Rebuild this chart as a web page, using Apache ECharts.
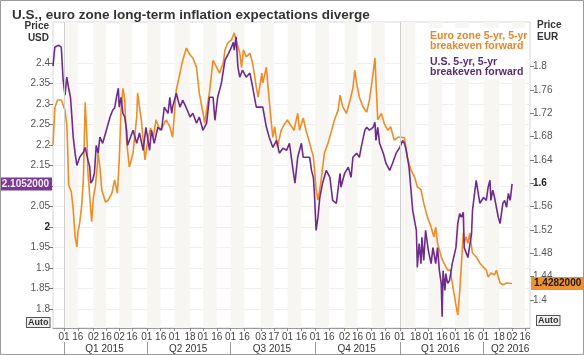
<!DOCTYPE html>
<html><head><meta charset="utf-8">
<script src="https://cdn.jsdelivr.net/npm/echarts@6/dist/echarts.min.js"></script>
<style>html,body{margin:0;padding:0;background:#fff}#c{width:584px;height:355px}</style>
</head><body><div id="c"></div>
<script>
// ---- data ----
const usdDates = ['2014-12-20','2014-12-22','2014-12-24','2014-12-26','2014-12-29','2014-12-31','2015-01-02','2015-01-04','2015-01-06','2015-01-08','2015-01-09','2015-01-11','2015-01-13','2015-01-15','2015-01-18','2015-01-22','2015-01-24','2015-01-27','2015-01-29','2015-01-30','2015-02-01','2015-02-03','2015-02-05','2015-02-07','2015-02-09','2015-02-12','2015-02-16','2015-02-20','2015-02-23','2015-02-25','2015-02-27','2015-03-01','2015-03-02','2015-03-04','2015-03-06','2015-03-08','2015-03-10','2015-03-11','2015-03-17','2015-03-21','2015-03-24','2015-03-28','2015-03-31','2015-04-04','2015-04-06','2015-04-09','2015-04-13','2015-04-17','2015-04-20','2015-04-24','2015-04-26','2015-04-28','2015-04-29','2015-05-03','2015-05-07','2015-05-10','2015-05-14','2015-05-18','2015-05-21','2015-05-25','2015-05-28','2015-06-01','2015-06-05','2015-06-08','2015-06-12','2015-06-14','2015-06-17','2015-06-21','2015-06-25','2015-06-28','2015-07-02','2015-07-04','2015-07-05','2015-07-07','2015-07-09','2015-07-11','2015-07-14','2015-07-18','2015-07-22','2015-07-25','2015-07-29','2015-08-02','2015-08-05','2015-08-09','2015-08-12','2015-08-16','2015-08-20','2015-08-23','2015-08-27','2015-08-31','2015-09-03','2015-09-07','2015-09-09','2015-09-12','2015-09-16','2015-09-18','2015-09-21','2015-09-25','2015-09-27','2015-09-29','2015-09-30','2015-10-02','2015-10-04','2015-10-06','2015-10-09','2015-10-13','2015-10-17','2015-10-20','2015-10-24','2015-10-28','2015-10-29','2015-11-02','2015-11-06','2015-11-09','2015-11-11','2015-11-15','2015-11-18','2015-11-20','2015-11-24','2015-11-26','2015-11-29','2015-12-03','2015-12-05','2015-12-06','2015-12-08','2015-12-10','2015-12-14','2015-12-17','2015-12-21','2015-12-24','2015-12-28','2016-01-01','2016-01-04','2016-01-06','2016-01-08','2016-01-11','2016-01-15','2016-01-17','2016-01-19','2016-01-20','2016-01-22','2016-01-24','2016-01-25','2016-01-27','2016-01-29','2016-02-01','2016-02-04','2016-02-06','2016-02-09','2016-02-11','2016-02-13','2016-02-15','2016-02-16','2016-02-17','2016-02-19','2016-02-20','2016-02-22','2016-02-24','2016-02-27','2016-03-02','2016-03-04','2016-03-06','2016-03-08','2016-03-10','2016-03-11','2016-03-15','2016-03-19','2016-03-20','2016-03-24','2016-03-26','2016-03-28','2016-04-01','2016-04-04','2016-04-06','2016-04-08','2016-04-09','2016-04-11','2016-04-13','2016-04-17','2016-04-19','2016-04-22','2016-04-24','2016-04-26','2016-04-28','2016-04-30','2016-05-02'];
const usdValues = [2.392,2.438,2.436,2.443,2.438,2.358,2.321,2.365,2.338,2.316,2.285,2.219,2.180,2.150,2.170,2.182,2.194,2.163,2.146,2.107,2.114,2.131,2.199,2.180,2.219,2.204,2.236,2.268,2.285,2.290,2.316,2.338,2.292,2.316,2.277,2.268,2.236,2.199,2.236,2.204,2.229,2.187,2.243,2.187,2.236,2.204,2.243,2.236,2.292,2.277,2.316,2.277,2.292,2.326,2.292,2.309,2.290,2.268,2.277,2.253,2.268,2.236,2.253,2.316,2.316,2.260,2.316,2.350,2.407,2.419,2.438,2.450,2.431,2.463,2.390,2.365,2.382,2.365,2.375,2.341,2.292,2.292,2.292,2.243,2.219,2.194,2.211,2.180,2.192,2.187,2.204,2.138,2.107,2.170,2.204,2.170,2.170,2.170,2.138,2.121,2.089,1.992,2.024,2.072,2.107,2.138,2.121,2.065,2.058,2.131,2.097,2.131,2.146,2.121,2.170,2.180,2.170,2.194,2.236,2.243,2.236,2.243,2.255,2.211,2.243,2.204,2.180,2.155,2.138,2.155,2.180,2.194,2.211,2.204,2.187,2.146,2.041,2.016,1.992,1.902,1.960,1.911,1.975,1.919,1.992,1.943,1.911,1.950,1.911,1.950,1.894,1.863,1.782,1.894,1.846,1.887,1.863,1.870,1.911,1.950,2.009,2.033,2.024,2.036,1.950,1.926,1.985,2.041,2.114,2.114,2.058,2.072,2.065,2.097,2.114,2.065,2.090,2.072,2.024,2.009,2.058,2.065,2.048,2.082,2.065,2.1052];

const eurDates = ['2014-12-20','2014-12-22','2014-12-24','2014-12-25','2014-12-29','2014-12-31','2015-01-02','2015-01-04','2015-01-05','2015-01-06','2015-01-09','2015-01-11','2015-01-13','2015-01-15','2015-01-16','2015-01-18','2015-01-20','2015-01-22','2015-01-24','2015-01-26','2015-01-27','2015-01-29','2015-01-31','2015-02-02','2015-02-04','2015-02-06','2015-02-07','2015-02-09','2015-02-11','2015-02-15','2015-02-18','2015-02-22','2015-02-25','2015-02-28','2015-03-01','2015-03-02','2015-03-04','2015-03-06','2015-03-08','2015-03-09','2015-03-10','2015-03-11','2015-03-13','2015-03-17','2015-03-21','2015-03-22','2015-03-24','2015-03-26','2015-03-28','2015-03-30','2015-04-02','2015-04-05','2015-04-08','2015-04-11','2015-04-15','2015-04-18','2015-04-22','2015-04-26','2015-04-29','2015-05-03','2015-05-07','2015-05-10','2015-05-14','2015-05-18','2015-05-21','2015-05-25','2015-05-28','2015-06-01','2015-06-03','2015-06-05','2015-06-08','2015-06-12','2015-06-16','2015-06-19','2015-06-23','2015-06-25','2015-06-28','2015-07-02','2015-07-04','2015-07-05','2015-07-07','2015-07-11','2015-07-13','2015-07-15','2015-07-18','2015-07-22','2015-07-25','2015-07-29','2015-07-31','2015-08-04','2015-08-05','2015-08-09','2015-08-11','2015-08-14','2015-08-16','2015-08-18','2015-08-21','2015-08-25','2015-08-28','2015-09-01','2015-09-03','2015-09-08','2015-09-12','2015-09-14','2015-09-18','2015-09-21','2015-09-25','2015-09-29','2015-09-30','2015-10-02','2015-10-04','2015-10-07','2015-10-11','2015-10-15','2015-10-18','2015-10-22','2015-10-26','2015-10-28','2015-10-31','2015-11-04','2015-11-08','2015-11-11','2015-11-13','2015-11-15','2015-11-18','2015-11-22','2015-11-26','2015-11-29','2015-12-03','2015-12-05','2015-12-06','2015-12-08','2015-12-12','2015-12-15','2015-12-19','2015-12-22','2015-12-26','2015-12-30','2016-01-02','2016-01-06','2016-01-09','2016-01-13','2016-01-17','2016-01-20','2016-01-24','2016-01-27','2016-01-31','2016-02-04','2016-02-07','2016-02-09','2016-02-11','2016-02-15','2016-02-18','2016-02-22','2016-02-25','2016-02-27','2016-03-02','2016-03-04','2016-03-06','2016-03-08','2016-03-10','2016-03-11','2016-03-13','2016-03-15','2016-03-17','2016-03-19','2016-03-20','2016-03-24','2016-03-28','2016-04-01','2016-04-04','2016-04-06','2016-04-09','2016-04-13','2016-04-15','2016-04-19','2016-04-22','2016-04-26','2016-04-28','2016-05-02'];
const eurValues = [1.666,1.729,1.739,1.743,1.743,1.743,1.726,1.700,1.657,1.597,1.585,1.554,1.508,1.491,1.515,1.532,1.559,1.606,1.739,1.674,1.618,1.577,1.534,1.577,1.594,1.628,1.652,1.628,1.589,1.568,1.571,1.583,1.606,1.583,1.580,1.640,1.726,1.763,1.743,1.703,1.674,1.657,1.628,1.652,1.714,1.755,1.731,1.709,1.674,1.640,1.674,1.695,1.679,1.709,1.691,1.697,1.709,1.697,1.679,1.760,1.789,1.811,1.832,1.820,1.815,1.799,1.755,1.721,1.703,1.726,1.755,1.811,1.799,1.789,1.806,1.829,1.841,1.846,1.854,1.858,1.846,1.823,1.799,1.829,1.817,1.823,1.806,1.765,1.748,1.789,1.772,1.799,1.760,1.709,1.679,1.697,1.662,1.691,1.700,1.709,1.703,1.691,1.720,1.691,1.712,1.691,1.669,1.645,1.628,1.589,1.571,1.600,1.652,1.669,1.686,1.709,1.726,1.751,1.731,1.720,1.743,1.763,1.794,1.772,1.748,1.731,1.722,1.743,1.789,1.815,1.777,1.709,1.720,1.703,1.691,1.697,1.674,1.679,1.679,1.678,1.645,1.623,1.611,1.594,1.589,1.566,1.542,1.525,1.508,1.525,1.497,1.474,1.463,1.451,1.451,1.429,1.391,1.374,1.412,1.463,1.515,1.497,1.508,1.497,1.515,1.491,1.480,1.474,1.463,1.456,1.451,1.439,1.446,1.443,1.451,1.429,1.426,1.429,1.426,1.4282];

const dayTicks = ['2015-01-01','2015-01-16','2015-02-02','2015-02-16','2015-03-02','2015-03-16','2015-04-01','2015-04-16','2015-05-01','2015-05-18','2015-06-01','2015-06-16','2015-07-01','2015-07-16','2015-08-03','2015-08-17','2015-09-01','2015-09-16','2015-10-01','2015-10-16','2015-11-02','2015-11-16','2015-12-01','2015-12-16','2016-01-01','2016-01-18','2016-02-01','2016-02-16','2016-03-01','2016-03-16','2016-04-01','2016-04-18','2016-05-02','2016-05-16'];
const quarterStarts = ['2015-01-01','2015-04-01','2015-07-01','2015-10-01','2016-01-01','2016-04-01'];
const quarterLabelDates = ['2015-02-14','2015-05-16','2015-08-15','2015-11-15','2016-02-14','2016-04-30'];
const quarterLabels = ['Q1 2015','Q2 2015','Q3 2015','Q4 2015','Q1 2016','Q2 2016'];
const yearLines = ['2015-01-01','2016-01-01'];
const usdTicks = [1.8,1.85,1.9,1.95,2,2.05,2.1,2.15,2.2,2.25,2.3,2.35,2.4];
const eurTicks = [1.4,1.44,1.48,1.52,1.56,1.6,1.64,1.68,1.72,1.76,1.8];
const titleText = 'U.S., euro zone long-term inflation expectations diverge';
const eurName = ['Euro zone 5-yr, 5-yr', 'breakeven forward'];
const usdName = ['U.S. 5-yr, 5-yr', 'breakeven forward'];

// ---- build ----
const T = s => Date.parse(s.length > 10 ? s + 'Z' : s + 'T00:00:00Z');
const usdData = usdDates.map((d, i) => [T(d), usdValues[i]]);
const eurData = eurDates.map((d, i) => [T(d), eurValues[i]]);
const qMap = {};
quarterLabelDates.forEach((d, i) => { qMap[T(d)] = quarterLabels[i]; });
const lastUsd = usdValues[usdValues.length - 1];
const lastEur = eurValues[eurValues.length - 1];

const FONT = "'Liberation Sans Narrow','Liberation Sans',sans-serif";
const PURPLE = '#6f2b8c';
const ORANGE = '#f08c25';
const X_MIN = T('2014-12-20'), X_MAX = T('2016-05-21T12:00:00');

const baseGraphic = [
  {type: 'rect', shape: {x: 0.5, y: 0.5, width: 583, height: 354}, style: {fill: 'none', stroke: '#9a9a9a', lineWidth: 1}, silent: true, z: 100},
  {type: 'text', style: {text: 'Price', x: 49, y: 21, align: 'right', font: 'bold 10px ' + FONT, fill: '#333'}},
  {type: 'text', style: {text: 'USD', x: 49, y: 33, align: 'right', font: 'bold 10px ' + FONT, fill: '#333'}},
  {type: 'text', style: {text: 'Price', x: 537, y: 20, align: 'left', font: 'bold 10px ' + FONT, fill: '#333'}},
  {type: 'text', style: {text: 'EUR', x: 537, y: 32, align: 'left', font: 'bold 10px ' + FONT, fill: '#333'}},
  {type: 'rect', shape: {x: 423, y: 28, width: 104, height: 51}, style: {fill: '#ffffff'}, z: 10},
  {type: 'text', z: 11, style: {text: eurName[0], x: 430, y: 31, font: 'bold 10.5px ' + FONT, fill: '#e8862a'}},
  {type: 'text', z: 11, style: {text: eurName[1], x: 430, y: 41, font: 'bold 10.5px ' + FONT, fill: '#e8862a'}},
  {type: 'text', z: 11, style: {text: usdName[0], x: 430, y: 57, font: 'bold 10.5px ' + FONT, fill: '#5a2a78'}},
  {type: 'text', z: 11, style: {text: usdName[1], x: 430, y: 67, font: 'bold 10.5px ' + FONT, fill: '#5a2a78'}},
  {type: 'text', z: 11, style: {text: 'Auto', x: 27, y: 318, font: 'bold 9px ' + FONT, fill: '#333', backgroundColor: '#f0f0f0', borderColor: '#555', borderWidth: 1, padding: [0, 1]}},
  {type: 'text', z: 11, style: {text: 'Auto', x: 537, y: 316, font: 'bold 9px ' + FONT, fill: '#333', backgroundColor: '#f0f0f0', borderColor: '#555', borderWidth: 1, padding: [0, 1]}}
];

const chart = echarts.init(document.getElementById('c'), null, {renderer: 'canvas'});
chart.setOption({
  animation: false,
  backgroundColor: '#ffffff',
  title: {text: titleText, left: 7, top: 3,
    textStyle: {fontFamily: FONT, fontSize: 13.5, fontWeight: 'bold', color: '#333'}},
  grid: {left: 53, right: 54, top: 22, bottom: 27, show: true, borderColor: '#d6d6d6', borderWidth: 1, backgroundColor: '#fff'},
  xAxis: [{
    type: 'value', min: X_MIN, max: X_MAX, position: 'bottom',
    axisLine: {show: true, onZero: false, lineStyle: {color: '#9a9a9a'}},
    axisTick: {show: true, length: 3, customValues: dayTicks.map(T), lineStyle: {color: '#888'}},
    axisLabel: {customValues: dayTicks.map(T), margin: 4, fontFamily: FONT, fontSize: 10, color: '#444',
      formatter: v => String(new Date(v).getUTCDate()).padStart(2, '0')},
    splitLine: {show: false},
    splitArea: {show: true, areaStyle: {color: ['#f8f6f3', 'rgba(255,255,255,0)']}}
  }, {
    type: 'value', min: X_MIN, max: X_MAX, position: 'bottom', offset: 14,
    axisLine: {show: false},
    axisTick: {show: true, length: 13, customValues: quarterStarts.map(T), lineStyle: {color: '#999'}},
    axisLabel: {customValues: quarterLabelDates.map(T), margin: 2, fontFamily: FONT, fontSize: 10, color: '#333',
      formatter: v => qMap[v] || ''},
    splitLine: {show: false}, splitArea: {show: false}
  }],
  yAxis: [{
    type: 'value', position: 'left', min: 1.7544, max: 2.4993,
    axisLine: {show: false},
    axisTick: {show: true, length: 4, customValues: usdTicks, lineStyle: {color: '#777'}},
    axisLabel: {customValues: usdTicks, margin: 3, fontFamily: FONT, fontSize: 10, color: '#555',
      formatter: v => Math.abs(v - 2) < 1e-9 ? '{b|2}' : String(+v.toFixed(2)),
      rich: {b: {fontFamily: FONT, fontSize: 10, fontWeight: 'bold', color: '#222'}}},
    splitLine: {show: true, lineStyle: {color: '#efefef', width: 1}}
  }, {
    type: 'value', position: 'right', min: 1.3518, max: 1.8767,
    axisLine: {show: false},
    axisTick: {show: true, length: 4, customValues: eurTicks, lineStyle: {color: '#777'}},
    axisLabel: {customValues: eurTicks, margin: 3, fontFamily: FONT, fontSize: 10, color: '#555',
      formatter: v => Math.abs(v - 1.6) < 1e-9 ? '{b|1.6}' : String(+v.toFixed(2)),
      rich: {b: {fontFamily: FONT, fontSize: 10, fontWeight: 'bold', color: '#222'}}},
    splitLine: {show: false}
  }],
  series: [{
    name: eurName.join(' '), type: 'line', xAxisIndex: 0, yAxisIndex: 1, data: eurData,
    showSymbol: false, symbol: 'none', lineStyle: {color: ORANGE, width: 1.6}, z: 3
  }, {
    name: usdName.join(' '), type: 'line', xAxisIndex: 0, yAxisIndex: 0, data: usdData,
    showSymbol: false, symbol: 'none', lineStyle: {color: PURPLE, width: 1.6}, z: 4,
    markLine: {silent: true, symbol: 'none', animation: false, label: {show: false},
      lineStyle: {color: '#cfcfcf', type: 'solid', width: 1},
      data: yearLines.map(d => ({xAxis: T(d)}))}
  }],
  graphic: baseGraphic
});

// last-value markers placed through the axes' own scales
const pU = chart.convertToPixel({xAxisIndex: 0, yAxisIndex: 0}, [X_MIN, lastUsd]);
const pE = chart.convertToPixel({xAxisIndex: 0, yAxisIndex: 1}, [X_MAX, lastEur]);
chart.setOption({graphic: baseGraphic.concat([
  {type: 'text', z: 20, style: {text: lastUsd.toFixed(7), x: 52, y: pU[1], align: 'right', verticalAlign: 'middle',
    font: 'bold 10px ' + FONT, fill: '#f6ecf9', backgroundColor: '#7a3a90', padding: [2, 3, 1, 3]}},
  {type: 'text', z: 20, style: {text: lastEur.toFixed(7), x: 531, y: pE[1], align: 'left', verticalAlign: 'middle',
    font: 'bold 10px ' + FONT, fill: '#1a1a1a', backgroundColor: '#f0922e', padding: [2, 3, 1, 3]}}
])}, {replaceMerge: ['graphic']});
</script></body></html>
